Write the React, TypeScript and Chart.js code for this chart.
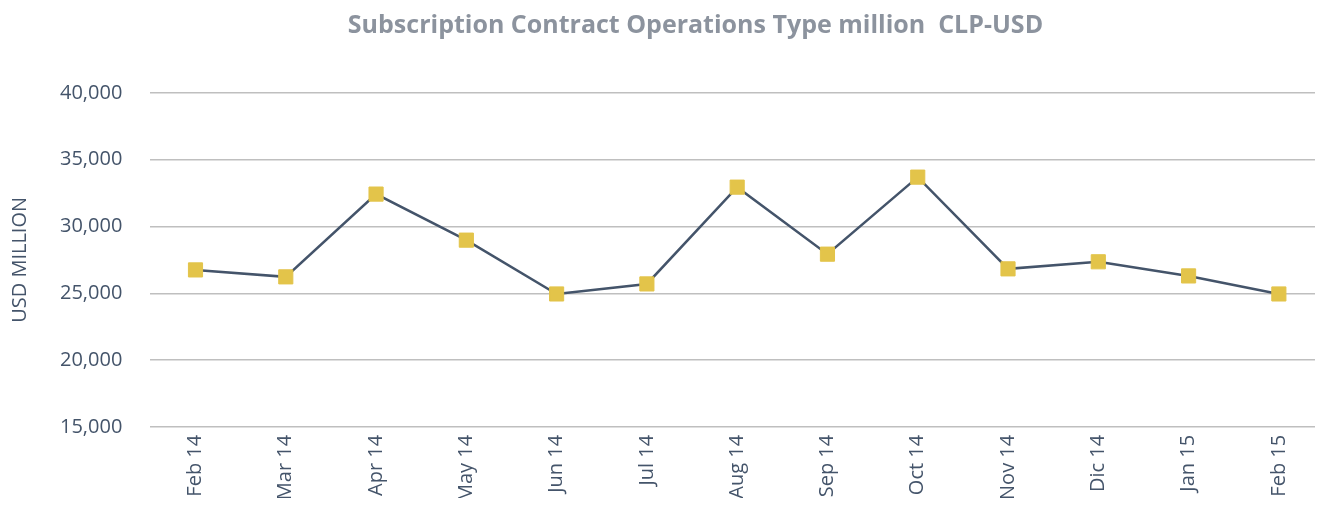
import React, { useEffect, useRef } from "react";
import { Chart, registerables } from "chart.js";

Chart.register(...registerables);

const categories = ["Feb 14", "Mar 14", "Apr 14", "May 14", "Jun 14", "Jul 14", "Aug 14", "Sep 14", "Oct 14", "Nov 14", "Dic 14", "Jan 15", "Feb 15"];
const values = [26750, 26230, 32430, 28980, 24950, 25700, 32950, 27930, 33700, 26830, 27360, 26300, 24950];
const yMin = 15000;
const yMax = 40000;
const yStep = 5000;
const chartTitle = "Subscription Contract Operations Type million  CLP-USD";
const yTitle = "USD MILLION";

// Let the title span the whole canvas width (layout padding reserves room on the right)
const titleSpanPlugin = {
  id: "titleSpan",
  afterLayout(chart: any) {
    const t = chart.titleBlock;
    if (t) {
      t.left = 0;
      t.right = chart.width;
    }
  },
};

export default function App() {
  const ref = useRef<HTMLCanvasElement | null>(null);
  useEffect(() => {
    if (!ref.current) return;
    const chart = new Chart(ref.current, {
      type: "line",
      data: {
        labels: categories,
        datasets: [
          {
            data: values,
            borderColor: "#44546A",
            borderWidth: 2.5,
            pointStyle: "rect",
            pointRadius: 10,
            pointHoverRadius: 10,
            pointBackgroundColor: "#E3C44A",
            pointBorderColor: "#E3C44A",
            pointBorderWidth: 1,
            tension: 0,
          },
        ],
      },
      plugins: [titleSpanPlugin],
      options: {
        animation: false,
        responsive: false,
        devicePixelRatio: 1,
        layout: { padding: { left: 0, right: 59, top: 0, bottom: 0 } },
        plugins: {
          legend: { display: false },
          tooltip: { enabled: false },
          title: {
            display: true,
            text: chartTitle,
            color: "#8C939E",
            font: { family: "'Open Sans'", size: 25, weight: "bold" },
            padding: { top: 3, bottom: 52 },
          },
        },
        scales: {
          x: {
            type: "category",
            offset: true,
            grid: { display: false, drawTicks: false },
            border: { display: false },
            ticks: {
              color: "#44546A",
              font: { family: "'Open Sans'", size: 20 },
              minRotation: 90,
              maxRotation: 90,
              padding: 8,
              autoSkip: false,
            },
          },
          y: {
            min: yMin,
            max: yMax,
            grid: { color: "#BFBFBF", lineWidth: 1.5, drawTicks: false },
            border: { display: false },
            ticks: {
              stepSize: yStep,
              color: "#44546A",
              font: { family: "'Open Sans'", size: 20 },
              padding: 28,
              callback: (v: any) => Number(v).toLocaleString("en-US"),
            },
            title: {
              display: true,
              text: yTitle,
              color: "#44546A",
              font: { family: "'Open Sans'", size: 20 },
              padding: { top: 0, bottom: 0 },
            },
          },
        },
      },
    });
    return () => chart.destroy();
  }, []);
  return (
    <div style={{ width: 1307, height: 498, marginBottom: -8, overflow: "hidden" }}>
      <canvas ref={ref} width={1375} height={502} style={{ display: "block" }} />
    </div>
  );
}
